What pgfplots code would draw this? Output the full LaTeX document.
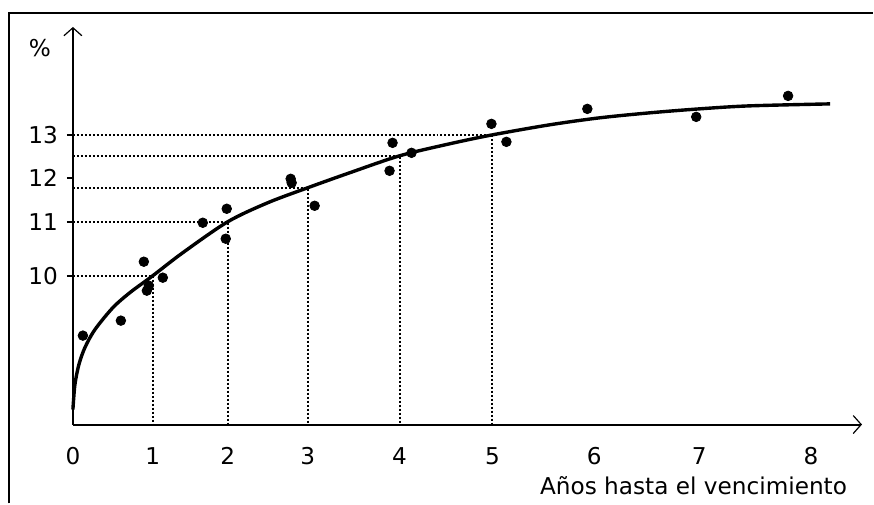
\documentclass[border=0pt]{standalone}
\usepackage{fontspec}
\setmainfont{DejaVu Sans}
\usepackage{pgfplots}
\pgfplotsset{compat=1.18}
\usetikzlibrary{arrows.meta}
\begin{document}
\begin{tikzpicture}
\begin{axis}[
  x=0.5pt, y=0.5pt,
  xmin=0, xmax=790, ymin=0, ymax=398,
  axis lines=left,
  axis line style={line width=1pt, -{Straight Barb[length=4pt,width=9pt,line width=0.6pt]}},
  clip=false,
  xtick={0,80,155,235,327,420,522,627,739},
  xticklabels={0,1,2,3,4,5,6,7,8},
  ytick={149,203,247,290},
  yticklabels={10,11,12,13},
  xtick style={draw=none},
  ytick style={line width=1pt, black},
  tick align=outside,
  major tick length=3pt,
  tick label style={font=\fontsize{11.6}{13}\selectfont},
  xticklabel style={yshift=-5pt},
  yticklabel style={xshift=-1pt},
]
% bounding box and frame
\path (axis cs:-73,-79) rectangle (axis cs:801,425);
\draw[line width=1pt] (axis cs:-64,-79) -- (axis cs:-64,412) -- (axis cs:801,412);
% dotted guide lines
\addplot[black, line width=1pt, dash pattern=on 1pt off 1pt] coordinates {(0,149) (80,149) (80,0)};
\addplot[black, line width=1pt, dash pattern=on 1pt off 1pt] coordinates {(0,203) (155,203) (155,0)};
\addplot[black, line width=1pt, dash pattern=on 1pt off 1pt] coordinates {(0,237) (235,237) (235,0)};
\addplot[black, line width=1pt, dash pattern=on 1pt off 1pt] coordinates {(0,269) (327,269) (327,0)};
\addplot[black, line width=1pt, dash pattern=on 1pt off 1pt] coordinates {(0,290) (420,290) (420,0)};
% fitted curve
\addplot[black, line width=1.7pt, smooth] coordinates {
(0,15) (2,40) (6,60) (12,77) (22,95) (40,117) (57,132) (80,149)
(110,172) (155,203) (195,222) (235,237) (277,252) (327,269) (377,281)
(420,290) (477,300) (527,307) (577,312) (627,316) (677,319) (758,321)};
% observed yields
\addplot[only marks, mark=*, mark size=2.4pt, black] coordinates {
(10,89) (48,104) (71,163) (74,134) (76,139) (90,147) (130,202) (154,216)
(153,186) (218,246) (219,242) (242,219) (320,282) (317,254) (339,272)
(419,301) (434,283) (515,316) (624,308) (716,329)};
\node[font=\fontsize{11.6}{13}\selectfont] at (axis cs:-33,377) {\%};
\node[font=\fontsize{11.6}{13}\selectfont, anchor=east] at (axis cs:782,-61) {Años hasta el vencimiento};
\end{axis}
\end{tikzpicture}
\end{document}
